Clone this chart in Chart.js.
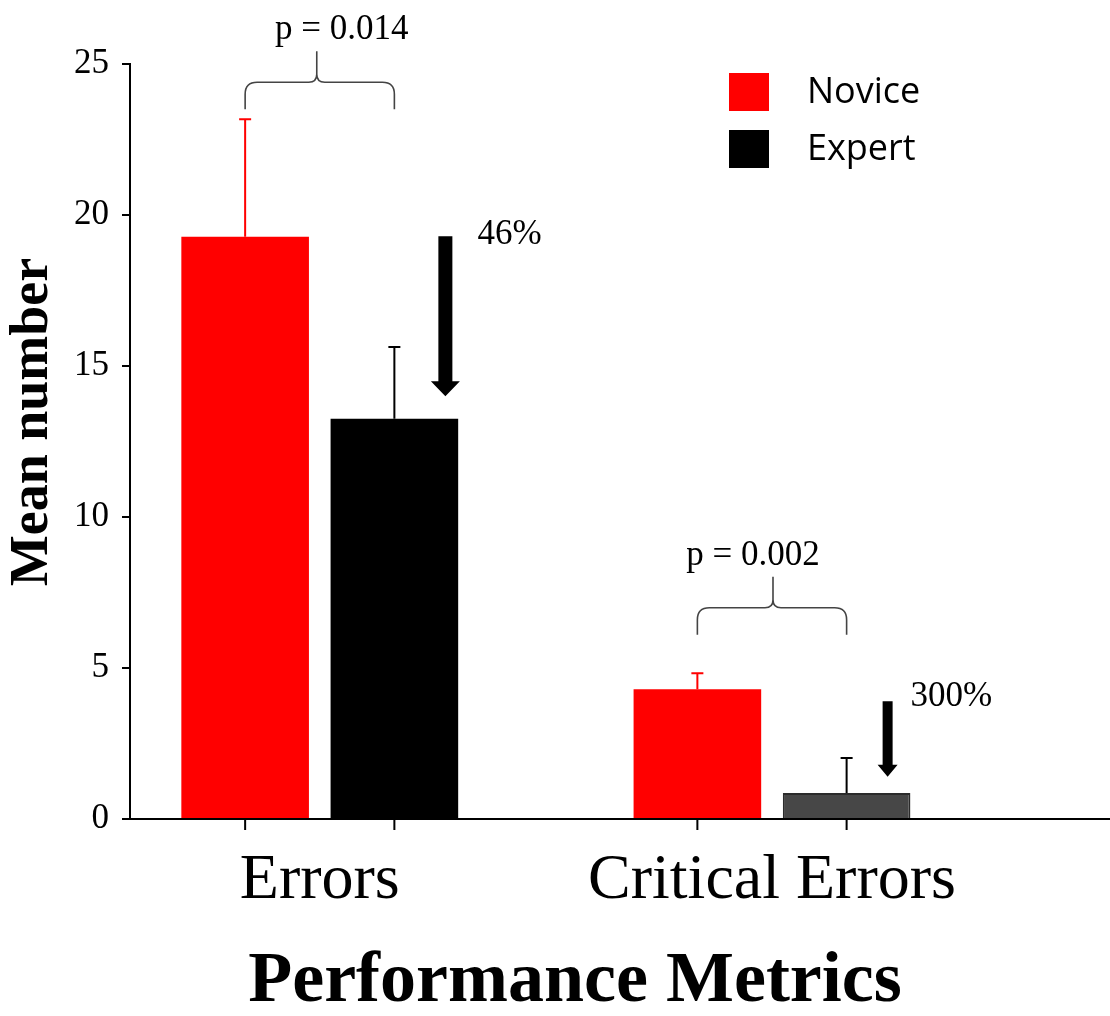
<!DOCTYPE html>
<html>
<head>
<meta charset="utf-8">
<title>Performance Metrics</title>
<script src="https://cdn.jsdelivr.net/npm/chart.js@4.4.0/dist/chart.umd.min.js"></script>
<style>
    html, body { margin: 0; padding: 0; background: #fff; }
    #wrap { width: 1110px; height: 1016px; position: relative; }
</style>
</head>
<body>
<div id="wrap"><canvas id="chart"></canvas></div>
<script>
// Data
const categories = ['Errors', 'Critical Errors'];
const seriesNames = ['Novice', 'Expert'];
const noviceMeans = [19.28, 4.30];
const expertMeans = [13.25, 0.86];
const noviceErrors = [3.89, 0.53];
const expertErrors = [2.38, 1.16];
const yTicks = [0, 5, 10, 15, 20, 25];
const pValueLabels = ['p = 0.014', 'p = 0.002'];
const changeLabels = ['46%', '300%'];
const xTitle = 'Performance Metrics';
const yTitle = 'Mean number';

const SERIF = "'Liberation Serif', 'Times New Roman', serif";
const SANS = "'Open Sans', 'Liberation Sans', sans-serif";

// Error bars on top of each bar
const errorBarsPlugin = {
    id: 'errorBars',
    afterDatasetsDraw(chart) {
        const ctx = chart.ctx;
        const yScale = chart.scales.y;
        chart.data.datasets.forEach((ds, di) => {
            const meta = chart.getDatasetMeta(di);
            meta.data.forEach((bar, i) => {
                const top = yScale.getPixelForValue(ds.data[i].y + ds.errors[i]);
                ctx.save();
                ctx.strokeStyle = ds.errorColor;
                ctx.lineWidth = 2;
                ctx.beginPath();
                ctx.moveTo(bar.x, bar.y);
                ctx.lineTo(bar.x, top);
                ctx.moveTo(bar.x - 6, top);
                ctx.lineTo(bar.x + 6, top);
                ctx.stroke();
                ctx.restore();
            });
        });
    }
};

// Braces, arrows, tick marks, axis titles and legend
const annotationsPlugin = {
    id: 'annotations',
    afterDraw(chart, args, opts) {
        const ctx = chart.ctx;
        const yScale = chart.scales.y;
        const novice = chart.getDatasetMeta(0).data;
        const expert = chart.getDatasetMeta(1).data;
        const base = chart.chartArea.bottom;

        // tick marks under every bar
        ctx.save();
        ctx.strokeStyle = '#000';
        ctx.lineWidth = 2;
        ctx.beginPath();
        novice.concat(expert).forEach(bar => {
            ctx.moveTo(bar.x, base);
            ctx.lineTo(bar.x, base + 11);
        });
        ctx.stroke();
        ctx.restore();

        // braces with p values
        opts.braces.forEach((b, i) => {
            const x1 = novice[i].x;
            const x2 = expert[i].x;
            const xm = (x1 + x2) / 2 + b.tipDx;
            const yb = yScale.getPixelForValue(b.bottom);
            const yt = yb - 27;
            const ytip = yt - 31;
            const r = 12;
            const rt = 8;
            ctx.save();
            ctx.strokeStyle = '#444';
            ctx.lineWidth = 1.6;
            ctx.beginPath();
            ctx.moveTo(x1, yb);
            ctx.lineTo(x1, yt + r);
            ctx.quadraticCurveTo(x1, yt, x1 + r, yt);
            ctx.lineTo(xm - rt, yt);
            ctx.quadraticCurveTo(xm, yt, xm, yt - rt);
            ctx.lineTo(xm, ytip);
            ctx.moveTo(xm, yt - rt);
            ctx.quadraticCurveTo(xm, yt, xm + rt, yt);
            ctx.lineTo(x2 - r, yt);
            ctx.quadraticCurveTo(x2, yt, x2, yt + r);
            ctx.lineTo(x2, yb);
            ctx.stroke();

            ctx.fillStyle = '#000';
            ctx.font = '35px ' + SERIF;
            ctx.textAlign = 'center';
            ctx.textBaseline = 'alphabetic';
            ctx.fillText(pValueLabels[i], xm + b.textDx, ytip - 12);
            ctx.restore();
        });

        // down arrows with percent labels
        opts.arrows.forEach((a, i) => {
            const ax = expert[i].x + a.dx;
            const y0 = yScale.getPixelForValue(a.from);
            const y1 = yScale.getPixelForValue(a.to);
            ctx.save();
            ctx.fillStyle = '#000';
            ctx.beginPath();
            ctx.moveTo(ax - a.shaft / 2, y0);
            ctx.lineTo(ax + a.shaft / 2, y0);
            ctx.lineTo(ax + a.shaft / 2, y1 - a.head);
            ctx.lineTo(ax + a.headWidth / 2, y1 - a.head);
            ctx.lineTo(ax, y1);
            ctx.lineTo(ax - a.headWidth / 2, y1 - a.head);
            ctx.lineTo(ax - a.shaft / 2, y1 - a.head);
            ctx.closePath();
            ctx.fill();

            ctx.font = '35px ' + SERIF;
            ctx.textAlign = 'left';
            ctx.textBaseline = 'alphabetic';
            ctx.fillText(changeLabels[i], ax + a.textDx, y0 + a.textDy);
            ctx.restore();
        });

        // axis titles
        ctx.save();
        ctx.fillStyle = '#000';
        ctx.textAlign = 'center';
        ctx.textBaseline = 'middle';
        ctx.font = 'bold 72px ' + SERIF;
        ctx.fillText(xTitle, 575, 982);
        ctx.translate(33, 422);
        ctx.rotate(-Math.PI / 2);
        ctx.font = 'bold 54px ' + SERIF;
        ctx.fillText(yTitle, 0, 0);
        ctx.restore();

        // legend
        ctx.save();
        ctx.font = '36px ' + SANS;
        ctx.textAlign = 'left';
        ctx.textBaseline = 'middle';
        chart.data.datasets.forEach((ds, di) => {
            const y = 73 + di * 57;
            const color = Array.isArray(ds.backgroundColor) ? ds.backgroundColor[0] : ds.backgroundColor;
            ctx.fillStyle = color;
            ctx.fillRect(729, y, 40, 38);
            ctx.fillStyle = '#000';
            ctx.fillText(ds.label, 807, y + 20);
        });
        ctx.restore();
    }
};

new Chart(document.getElementById('chart'), {
    type: 'bar',
    data: {
        datasets: [
            {
                label: seriesNames[0],
                data: categories.map((c, i) => ({ x: i, y: noviceMeans[i] })),
                errors: noviceErrors,
                errorColor: '#ff0000',
                backgroundColor: '#ff0000',
                borderWidth: 0
            },
            {
                label: seriesNames[1],
                data: categories.map((c, i) => ({ x: i, y: expertMeans[i] })),
                errors: expertErrors,
                errorColor: '#000000',
                backgroundColor: ['#000000', '#474747'],
                borderColor: ['#000000', '#2b2b2b'],
                borderWidth: [0, 2]
            }
        ]
    },
    options: {
        responsive: true,
        maintainAspectRatio: false,
        animation: false,
        categoryPercentage: 0.66,
        barPercentage: 0.855,
        layout: { padding: { top: 64, left: 0, right: 0, bottom: 0 } },
        scales: {
            x: {
                type: 'linear',
                offset: false,
                bounds: 'data',
                min: -0.4196,
                max: 1.7474,
                afterBuildTicks: (scale) => {
                    scale.ticks = categories.map((c, i) => ({ value: i }));
                },
                afterFit: (scale) => { scale.height = 197; },
                grid: { display: false, drawTicks: false, offset: false },
                border: { display: true, color: '#000', width: 2 },
                ticks: {
                    color: '#000',
                    font: { family: SERIF, size: 64 },
                    padding: 24,
                    maxRotation: 0,
                    autoSkip: false,
                    callback: (v) => categories[v] || ''
                },
                title: { display: false }
            },
            y: {
                min: 0,
                max: 25,
                afterBuildTicks: (scale) => {
                    scale.ticks = yTicks.map(v => ({ value: v }));
                },
                afterFit: (scale) => { scale.width = 130; },
                grid: { display: true, drawOnChartArea: false, drawTicks: true, tickLength: 8, color: '#000', lineWidth: 2 },
                border: { display: true, color: '#000', width: 2 },
                ticks: {
                    color: '#000',
                    font: { family: SERIF, size: 35 },
                    padding: 13
                },
                title: { display: false }
            }
        },
        plugins: {
            legend: { display: false },
            tooltip: { enabled: false },
            annotations: {
                braces: [
                    { bottom: 23.5, tipDx: -3, textDx: 25 },
                    { bottom: 6.1, tipDx: 1, textDx: -20 }
                ],
                arrows: [
                    { from: 19.3, to: 14.0, dx: 51, shaft: 14, headWidth: 29, head: 15, textDx: 32, textDy: 8 },
                    { from: 3.9, to: 1.4, dx: 41, shaft: 10, headWidth: 20, head: 12, textDx: 23, textDy: 5 }
                ]
            }
        }
    },
    plugins: [errorBarsPlugin, annotationsPlugin]
});
</script>
</body>
</html>
